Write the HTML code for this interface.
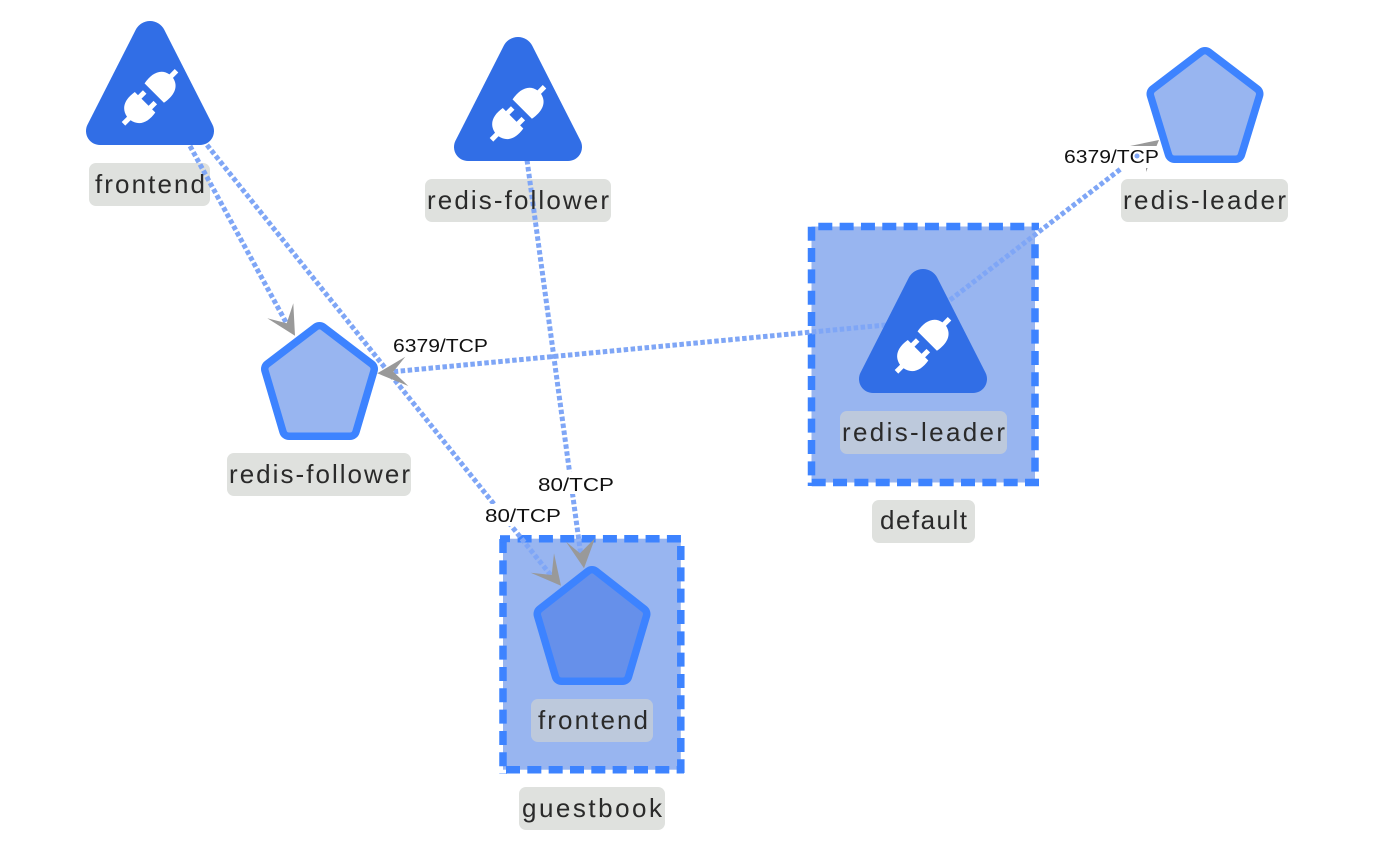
<!DOCTYPE html>
<html><head><meta charset="utf-8"><style>
html,body{margin:0;padding:0;background:#fff;width:1374px;height:841px;overflow:hidden}
svg{display:block}
.n{font-family:"Liberation Sans",sans-serif;font-size:26px;fill:#2a2a2a}
.e{font-family:"Liberation Sans",sans-serif;font-size:18px;fill:#111}
.ln{stroke:#7fa6f6;stroke-width:5;stroke-dasharray:4.5 2.5;fill:none}
.d{stroke:#3d83ff;stroke-width:7.5;stroke-dasharray:14 7.33;fill:none}
.a{fill:#999}
.w{fill:#fff}
</style></head><body>
<svg width="1374" height="841" viewBox="0 0 1374 841" xmlns="http://www.w3.org/2000/svg">
<defs>
<g id="plug" fill="#fff">
<path d="M6,-13.7 C18,-16 28,-13 30,-2.5 L37.5,-2.5 L37.5,2.5 L30,2.5 C28,13 18,16 6,13.7 Z"/>
<path d="M-7,-14.5 C-19,-16.5 -28,-13 -30,-2.5 L-37.5,-2.5 L-37.5,2.5 L-30,2.5 C-28,13 -19,16.5 -7,14.5 Z"/>
<rect x="-8" y="-10" width="8" height="5"/>
<rect x="-8" y="5" width="8" height="5"/>
</g>
<g id="tri">
<path d="M-14.26,8.76 A16,16 0 0 1 14.26,8.76 L62.48,103.66 A14,14 0 0 1 50,124 L-50,124 A14,14 0 0 1 -62.48,103.66 Z" fill="#316ee6"/>
<use href="#plug" transform="translate(0,76.3) rotate(-45)"/>
</g>
</defs>

<rect x="811.5" y="226.5" width="223.5" height="256" fill="#98b5f0"/>
<rect x="503" y="538.7" width="177.8" height="231" fill="#98b5f0"/>
<g class="d">
<line x1="818.3" y1="226.5" x2="1039" y2="226.5"/>
<line x1="811.5" y1="226.7" x2="811.5" y2="486"/>
<line x1="1035" y1="244.3" x2="1035" y2="480"/>
<line x1="811.7" y1="482.5" x2="1039" y2="482.5"/>
<line x1="517.6" y1="538.7" x2="684" y2="538.7"/>
<line x1="503" y1="539" x2="503" y2="774"/>
<line x1="680.8" y1="546" x2="680.8" y2="773"/>
<line x1="506" y1="769.7" x2="684" y2="769.7"/>
</g>
<line x1="500" y1="538.7" x2="510" y2="538.7" stroke="#3d83ff" stroke-width="7"/>

<g>
<rect x="89" y="163" width="121" height="43" rx="7" fill="#dfe1de"/>
<rect x="425" y="179" width="186" height="43" rx="7" fill="#dfe1de"/>
<rect x="1121" y="179" width="167" height="43" rx="7" fill="#dfe1de"/>
<rect x="227" y="453" width="184" height="43" rx="7" fill="#dfe1de"/>
<rect x="840" y="411" width="167" height="43" rx="7" fill="#bdc9dc"/>
<rect x="872" y="500" width="103" height="43" rx="7" fill="#dfe1de"/>
<rect x="531" y="699" width="122" height="43" rx="7" fill="#bdc9dc"/>
<rect x="519" y="787" width="146" height="43" rx="7" fill="#dfe1de"/>
</g>

<polygon class="a" points="1159,140 1130,146 1146,150 1146,172"/>
<rect class="w" x="1064" y="146" width="95" height="22"/>
<line class="ln" x1="190" y1="146" x2="288" y2="326"/>
<line class="ln" x1="207" y1="145" x2="553" y2="578"/>
<line class="ln" x1="527" y1="160" x2="581" y2="556"/>
<line class="ln" x1="886" y1="325" x2="390" y2="372"/>
<line class="ln" x1="950" y1="300" x2="1122" y2="168"/>
<rect class="w" x="538" y="472" width="76" height="22"/>
<rect class="w" x="485" y="504" width="76" height="22"/>
<circle cx="1137" cy="156" r="2.5" fill="#7fa6f6"/>

<polygon class="a" points="295,335.7 293.3,303.3 286.7,323.3 267.3,318.3"/>
<polygon class="a" points="377.3,373.3 405.3,356.7 393.3,371.7 408.3,386"/>
<polygon class="a" points="561,585.7 554,553.3 551.7,575 530.7,572.7"/>
<polygon class="a" points="584,568.3 595,538.3 580,553.3 566,541.7"/>

<use href="#tri" transform="translate(150,21)"/>
<use href="#tri" transform="translate(518,37)"/>
<use href="#tri" transform="translate(923,269)"/>

<g stroke-linejoin="round">
<polygon points="319.5,332 271,369 289,430 350,430 368,369" fill="#3d83ff" stroke="#3d83ff" stroke-width="20"/>
<polygon points="319.5,332 271,369 289,430 350,430 368,369" fill="#98b5f0" stroke="#98b5f0" stroke-width="5"/>
<polygon points="1205,57 1156.5,94 1174.5,153 1235.5,153 1253.5,94" fill="#3d83ff" stroke="#3d83ff" stroke-width="20"/>
<polygon points="1205,57 1156.5,94 1174.5,153 1235.5,153 1253.5,94" fill="#98b5f0" stroke="#98b5f0" stroke-width="5"/>
<polygon points="592,576 543.5,614 561.5,675 622.5,675 640.5,614" fill="#3d83ff" stroke="#3d83ff" stroke-width="20"/>
<polygon points="592,576 543.5,614 561.5,675 622.5,675 640.5,614" fill="#6690ea" stroke="#6690ea" stroke-width="5"/>
</g>

<text class="n" x="95" y="193" textLength="110" lengthAdjust="spacing">frontend</text>
<text class="n" x="427" y="209" textLength="182" lengthAdjust="spacing">redis-follower</text>
<text class="n" x="1123" y="209" textLength="163" lengthAdjust="spacing">redis-leader</text>
<text class="n" x="229" y="483" textLength="181" lengthAdjust="spacing">redis-follower</text>
<text class="n" x="842" y="441" textLength="163" lengthAdjust="spacing">redis-leader</text>
<text class="n" x="880" y="529" textLength="87" lengthAdjust="spacing">default</text>
<text class="n" x="538" y="729" textLength="110" lengthAdjust="spacing">frontend</text>
<text class="n" x="522" y="817" textLength="140" lengthAdjust="spacing">guestbook</text>

<text class="e" x="393" y="352" textLength="95" lengthAdjust="spacingAndGlyphs">6379/TCP</text>
<text class="e" x="1064" y="163" textLength="95" lengthAdjust="spacingAndGlyphs">6379/TCP</text>
<text class="e" x="538" y="491" textLength="76" lengthAdjust="spacingAndGlyphs">80/TCP</text>
<text class="e" x="485" y="522" textLength="76" lengthAdjust="spacingAndGlyphs">80/TCP</text>
</svg>
</body></html>
